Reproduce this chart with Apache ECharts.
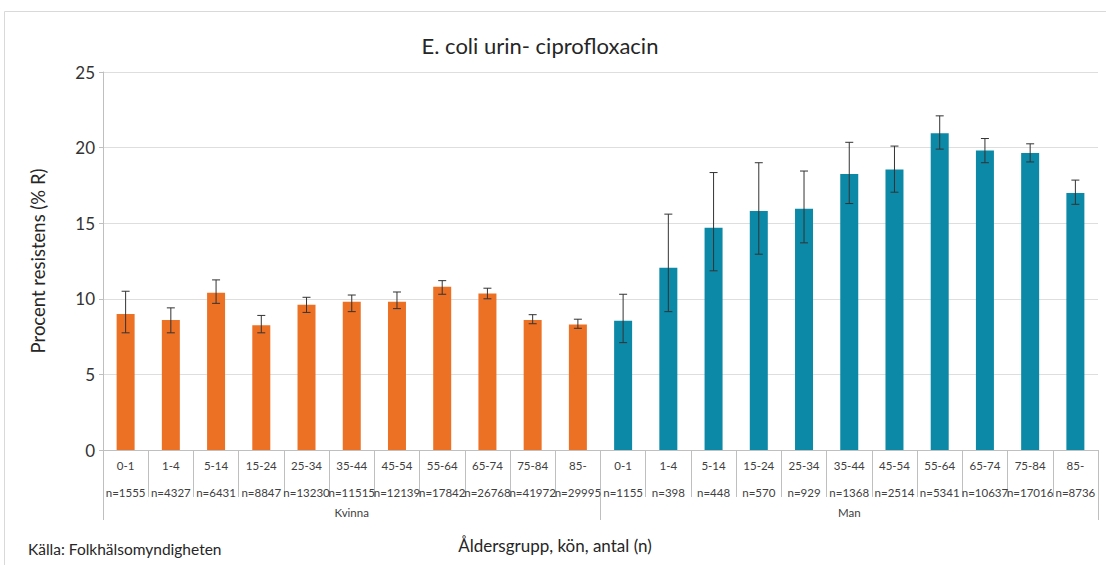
<!DOCTYPE html>
<html>
<head>
<meta charset="utf-8">
<script src="https://cdn.jsdelivr.net/npm/echarts@6/dist/echarts.min.js"></script>
<style>
html,body{margin:0;padding:0;background:#fff;}
#chart{width:1106px;height:565px;}
</style>
</head>
<body>
<div id="chart"></div>
<script>
const ageGroups = ['0-1','1-4','5-14','15-24','25-34','35-44','45-54','55-64','65-74','75-84','85-'];
const kvinnaN = [1555,4327,6431,8847,13230,11515,12139,17842,26768,41972,29995];
const manN = [1155,398,448,570,929,1368,2514,5341,10637,17016,8736];
const groups = ['Kvinna','Man'];

const kvinnaValues = [9.0, 8.6, 10.4, 8.25, 9.6, 9.8, 9.8, 10.8, 10.35, 8.6, 8.3];
const kvinnaLow    = [7.75, 7.75, 9.7, 7.75, 9.1, 9.15, 9.35, 10.3, 10.0, 8.35, 8.05];
const kvinnaHigh   = [10.5, 9.4, 11.25, 8.9, 10.1, 10.25, 10.45, 11.2, 10.7, 8.95, 8.65];

const manValues = [8.55, 12.05, 14.7, 15.8, 15.95, 18.25, 18.55, 20.95, 19.8, 19.65, 17.0];
const manLow    = [7.1, 9.15, 11.85, 12.95, 13.7, 16.3, 17.05, 19.9, 19.0, 19.05, 16.25];
const manHigh   = [10.3, 15.6, 18.35, 19.0, 18.45, 20.35, 20.1, 22.1, 20.6, 20.25, 17.85];

const yTicks = [0, 5, 10, 15, 20, 25];

const categories = ageGroups.map((a,i)=>a+'\nn='+kvinnaN[i]).concat(ageGroups.map((a,i)=>a+'\nn='+manN[i]));
const nK = ageGroups.length;
const kvinnaSeries = kvinnaValues.concat(manValues.map(()=>null));
const manSeries = kvinnaValues.map(()=>null).concat(manValues);
const errData = kvinnaLow.map((l,i)=>[i,l,kvinnaHigh[i]]).concat(manLow.map((l,i)=>[i+nK,l,manHigh[i]]));

const FONT = 'Lato, "Open Sans", sans-serif';
const chart = echarts.init(document.getElementById('chart'), null, {renderer:'svg'});
chart.setOption({
  animation:false,
  backgroundColor:'#fff',
  grid:{left:103, right:8, top:72, bottom:115},
  xAxis:[{
    type:'category', data:categories, position:'bottom',
    axisLine:{show:true, lineStyle:{color:'#bfbfbf', width:1}},
    axisTick:{show:true, interval:0, length:47, lineStyle:{color:'#bfbfbf'}},
    axisLabel:{interval:0, margin:2, fontSize:11.5, lineHeight:27, color:'#404040', fontFamily:FONT},
    splitLine:{show:false}
  },{
    type:'category', data:groups, position:'bottom',
    axisLine:{show:false},
    axisTick:{show:true, interval:0, length:70, lineStyle:{color:'#bfbfbf'}},
    axisLabel:{interval:0, margin:56, fontSize:11.5, color:'#404040', fontFamily:FONT},
    splitLine:{show:false}
  }],
  yAxis:{
    type:'value', min:0, max:25, interval:5,
    name:'Procent resistens (% R)', nameLocation:'middle', nameGap:56, nameRotate:90,
    nameTextStyle:{fontSize:18.5, color:'#262626', fontFamily:FONT},
    axisLine:{show:true, lineStyle:{color:'#bfbfbf'}},
    axisTick:{show:true, length:4, lineStyle:{color:'#bfbfbf'}},
    axisLabel:{fontSize:17, color:'#333', margin:8, fontFamily:FONT,
      formatter:v=>yTicks.includes(v)?String(v):''},
    splitLine:{show:true, lineStyle:{color:'#dedede'}}
  },
  series:[{
    type:'bar', name:'Kvinna', data:kvinnaSeries, barWidth:18, barGap:'-100%',
    itemStyle:{color:'#ED7125'}
  },{
    type:'bar', name:'Man', data:manSeries, barWidth:18, barGap:'-100%',
    itemStyle:{color:'#0C89A7'}
  },{
    type:'custom', name:'err', data:errData, z:10,
    renderItem:function(params, api){
      const x = api.value(0);
      const lo = api.coord([x, api.value(1)]);
      const hi = api.coord([x, api.value(2)]);
      const cap = 4;
      const st = {stroke:'#333', lineWidth:1};
      return {type:'group', children:[
        {type:'line', shape:{x1:lo[0], y1:lo[1], x2:hi[0], y2:hi[1]}, style:st},
        {type:'line', shape:{x1:lo[0]-cap, y1:lo[1], x2:lo[0]+cap, y2:lo[1]}, style:st},
        {type:'line', shape:{x1:hi[0]-cap, y1:hi[1], x2:hi[0]+cap, y2:hi[1]}, style:st}
      ]};
    }
  }],
  graphic:[
    {type:'rect', shape:{x:4.5, y:11.5, width:1120, height:600}, style:{fill:'none', stroke:'#d9d9d9', lineWidth:1}, silent:true},
    {type:'text', style:{text:'E. coli urin- ciprofloxacin', x:540, y:45, textAlign:'center', textVerticalAlign:'middle', fontSize:22, fill:'#262626', fontFamily:FONT}},
    {type:'text', style:{text:'Åldersgrupp, kön, antal (n)', x:555, y:545, textAlign:'center', textVerticalAlign:'middle', fontSize:17, fill:'#262626', fontFamily:FONT}},
    {type:'text', style:{text:'Källa: Folkhälsomyndigheten', x:28, y:549, textAlign:'left', textVerticalAlign:'middle', fontSize:15.5, fill:'#262626', fontFamily:FONT}}
  ]
});
</script>
</body>
</html>
